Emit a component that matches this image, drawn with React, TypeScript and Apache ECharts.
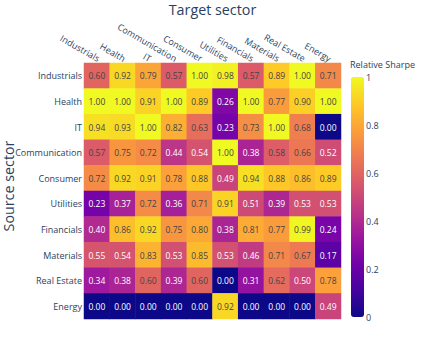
import React, { useEffect, useRef } from "react";
import * as echarts from "echarts";

const targets = ["Industrials", "Health", "IT", "Communication", "Consumer", "Utilities", "Financials", "Materials", "Real Estate", "Energy"];
const sources = ["Industrials", "Health", "IT", "Communication", "Consumer", "Utilities", "Financials", "Materials", "Real Estate", "Energy"];

const rowIndustrials = [0.60, 0.92, 0.79, 0.57, 1.00, 0.98, 0.57, 0.89, 1.00, 0.71];
const rowHealth = [1.00, 1.00, 0.91, 1.00, 0.89, 0.26, 1.00, 0.77, 0.90, 1.00];
const rowIT = [0.94, 0.93, 1.00, 0.82, 0.63, 0.23, 0.73, 1.00, 0.68, 0.00];
const rowCommunication = [0.57, 0.75, 0.72, 0.44, 0.54, 1.00, 0.38, 0.58, 0.66, 0.52];
const rowConsumer = [0.72, 0.92, 0.91, 0.78, 0.88, 0.49, 0.94, 0.88, 0.86, 0.89];
const rowUtilities = [0.23, 0.37, 0.72, 0.36, 0.71, 0.91, 0.51, 0.39, 0.53, 0.53];
const rowFinancials = [0.40, 0.86, 0.92, 0.75, 0.80, 0.38, 0.81, 0.77, 0.99, 0.24];
const rowMaterials = [0.55, 0.54, 0.83, 0.53, 0.85, 0.53, 0.46, 0.71, 0.67, 0.17];
const rowRealEstate = [0.34, 0.38, 0.60, 0.39, 0.60, 0.00, 0.31, 0.62, 0.50, 0.78];
const rowEnergy = [0.00, 0.00, 0.00, 0.00, 0.00, 0.92, 0.00, 0.00, 0.00, 0.49];

const rows = [rowIndustrials, rowHealth, rowIT, rowCommunication, rowConsumer, rowUtilities, rowFinancials, rowMaterials, rowRealEstate, rowEnergy];

const plasma = ["#0d0887", "#46039f", "#7201a8", "#9c179e", "#bd3786", "#d8576b", "#ed7953", "#fb9f3a", "#fdca26", "#f0f921"];

const FONT = "Open Sans";
const TXT = "#2a3f5f";

export default function App() {
  const ref = useRef<HTMLDivElement>(null);
  useEffect(() => {
    if (!ref.current) return;
    const chart = echarts.init(ref.current, null, { renderer: "svg" });
    const data: any[] = [];
    rows.forEach((r, yi) =>
      r.forEach((v, xi) => {
        data.push({
          value: [xi, yi, v],
          label: { color: v < 0.56 ? "#ffffff" : "#444444" },
        });
      })
    );
    chart.setOption({
      animation: false,
      textStyle: { fontFamily: FONT },
      grid: [
        { left: 84, right: 82, top: 63, bottom: 21, containLabel: false, outerBoundsMode: "none" },
        { left: 351, width: 13, top: 77, height: 240, containLabel: false, outerBoundsMode: "none" },
      ],
      xAxis: [
        {
          type: "category",
          data: targets,
          position: "top",
          gridIndex: 0,
          axisLine: { show: false },
          axisTick: { show: false },
          splitLine: { show: false },
          axisLabel: {
            rotate: 30,
            color: TXT,
            fontSize: 9,
            margin: 0,
            interval: 0,
            fontFamily: FONT,
            align: "right",
            verticalAlign: "bottom",
          },
        },
        { type: "value", gridIndex: 1, show: false },
      ],
      yAxis: [
        {
          type: "category",
          data: sources,
          inverse: true,
          gridIndex: 0,
          axisLine: { show: false },
          axisTick: { show: false },
          splitLine: { show: false },
          axisLabel: { color: TXT, fontSize: 9, margin: 2, interval: 0, fontFamily: FONT },
        },
        {
          type: "value",
          gridIndex: 1,
          min: 0,
          max: 1,
          interval: 0.2,
          position: "right",
          axisLine: { show: false },
          axisTick: { show: false },
          splitLine: { show: false },
          axisLabel: { color: TXT, fontSize: 9, margin: 2, fontFamily: FONT },
        },
      ],
      visualMap: {
        type: "continuous",
        min: 0,
        max: 1,
        dimension: 2,
        seriesIndex: 0,
        calculable: false,
        left: 351,
        top: 77,
        padding: 0,
        itemWidth: 13,
        itemHeight: 240,
        text: ["", ""],
        showLabel: false,
        inRange: { color: plasma },
      },
      graphic: [
        {
          type: "text",
          left: 350,
          top: 60,
          style: { text: "Relative Sharpe", fill: TXT, fontSize: 9, fontFamily: FONT },
        },
        {
          type: "text",
          x: 212.5,
          y: 9,
          style: {
            text: "Target sector",
            fill: TXT,
            fontSize: 14.3,
            fontFamily: FONT,
            align: "center",
            verticalAlign: "middle",
          },
        },
        {
          type: "text",
          x: 8.5,
          y: 186,
          rotation: Math.PI / 2,
          style: {
            text: "Source sector",
            fill: TXT,
            fontSize: 14.3,
            fontFamily: FONT,
            align: "center",
            verticalAlign: "middle",
          },
        },
      ],
      series: [
        {
          type: "heatmap",
          xAxisIndex: 0,
          yAxisIndex: 0,
          data,
          label: {
            show: true,
            fontSize: 8.5,
            fontFamily: FONT,
            formatter: (p: any) => p.value[2].toFixed(2),
          },
          itemStyle: { borderWidth: 0 },
          emphasis: { disabled: true },
        },
      ],
    });
    return () => chart.dispose();
  }, []);
  return <div ref={ref} style={{ width: 423, height: 340, position: "absolute", left: 0, top: 0, background: "#fff" }} />;
}
